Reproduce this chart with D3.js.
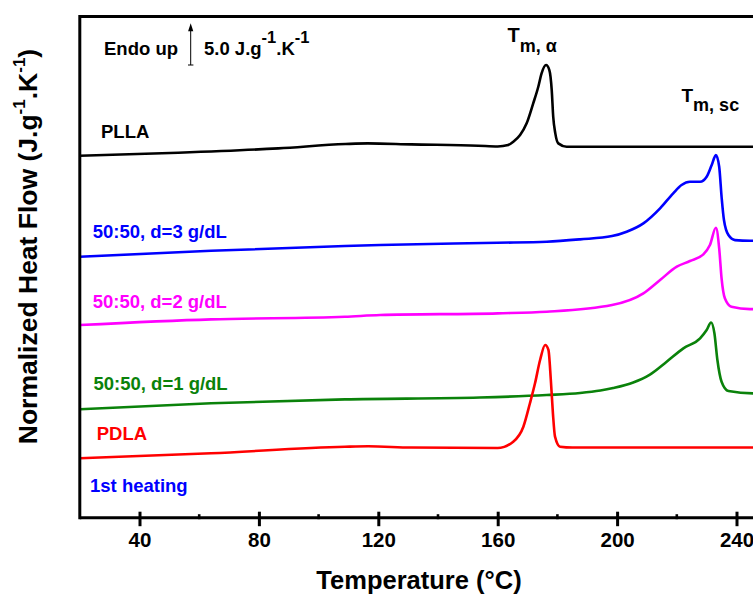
<!DOCTYPE html>
<html><head><meta charset="utf-8">
<script src="https://cdn.jsdelivr.net/npm/d3@7"></script>
<style>
html,body{margin:0;padding:0;background:#fff;}
svg{display:block;}
text{font-family:"Liberation Sans",Arial,Helvetica,sans-serif;font-weight:bold;}
</style></head>
<body>
<svg id="chart" width="753" height="594"></svg>
<script>
// Temperature (°C) and normalized heat flow (arbitrary offset units, 1 unit = 1 J.g-1.K-1)
const pllaT   = [20, 53, 86.5, 109, 116.5, 131, 153.5, 160, 163.5, 165.2, 167.5, 169.7, 171.9, 173.6, 174.7, 176.2, 177.3, 178.1, 178.6, 179.3, 180.3, 183.1, 200, 230, 260];
const pllaV   = [43.34, 43.70, 44.22, 44.74, 44.82, 44.70, 44.54, 44.45, 44.62, 45.01, 45.82, 47.22, 49.61, 51.60, 53.20, 54.20, 53.60, 51.20, 48.01, 46.02, 44.82, 44.42, 44.42, 44.42, 44.42];

const d3T     = [20, 64, 108.8, 120.6, 160, 176.4, 187.6, 198.3, 203.2, 208.8, 214.4, 218.8, 221.6, 224.4, 227.8, 230, 231.7, 233.1, 234.2, 235, 235.8, 237.3, 239.5, 244.5, 260];
const d3V     = [31.25, 31.96, 32.53, 32.65, 32.92, 33.04, 33.33, 33.72, 34.24, 35.24, 37.04, 38.84, 39.83, 40.22, 40.22, 40.82, 42.22, 43.42, 42.02, 38.43, 35.64, 33.84, 33.24, 33.16, 33.16];

const d2T     = [20, 64, 108.8, 120.6, 160, 176.4, 198.3, 208.8, 214.4, 220, 224.4, 228.9, 231.1, 233.1, 234.2, 235, 236.1, 238.3, 244.5, 260];
const d2V     = [23.07, 23.75, 24.06, 24.27, 24.47, 24.66, 25.46, 26.86, 28.46, 30.05, 30.73, 31.53, 32.65, 34.72, 32.25, 28.66, 26.27, 25.26, 24.98, 24.98];

const d1T     = [20, 64, 108.8, 154, 176.4, 187.6, 194.4, 198.7, 205.4, 211, 216.6, 222.2, 227.8, 230, 231.5, 232.6, 233.6, 235, 237.3, 245.5, 260];
const d1V     = [12.98, 13.70, 14.17, 14.39, 14.69, 14.93, 15.23, 15.53, 16.19, 17.14, 18.68, 20.28, 21.48, 22.47, 23.37, 22.08, 18.88, 16.28, 15.17, 14.89, 14.89];

const pdlaT   = [20, 64, 108.8, 116.6, 131, 160, 165.2, 168.6, 170.8, 172.5, 174.2, 175.9, 177, 177.8, 178.5, 179.2, 180.9, 185, 220, 260];
const pdlaV   = [7.11, 7.71, 8.50, 8.55, 8.40, 8.34, 9.10, 10.89, 13.70, 16.09, 18.88, 20.68, 20.08, 16.49, 12.50, 9.70, 8.50, 8.40, 8.40, 8.40];

const seriesNames  = ["PLLA", "50:50, d=3 g/dL", "50:50, d=2 g/dL", "50:50, d=1 g/dL", "PDLA"];
const seriesColors = ["#000000", "#0000ff", "#ff00ff", "#0a820a", "#ff0000"];
const majorTicks = [40, 80, 120, 160, 200, 240];
const minorTicks = [60, 100, 140, 180, 220];
const scaleBarValue = 5.0;

const svg = d3.select("#chart");
const pLeft = 79.8, pTop = 16.6, pBottom = 517.7;
const x = d3.scaleLinear().domain([20, 260]).range([pLeft, pLeft + 240 * 2.985]);
const y = d3.scaleLinear().domain([0, 60]).range([pBottom, pTop]);

svg.append("defs").append("clipPath").attr("id", "clip")
  .append("rect").attr("x", pLeft).attr("y", pTop).attr("width", 800).attr("height", pBottom - pTop);

const data = [
  pllaT.map((t, i) => [t, pllaV[i]]),
  d3T.map((t, i) => [t, d3V[i]]),
  d2T.map((t, i) => [t, d2V[i]]),
  d1T.map((t, i) => [t, d1V[i]]),
  pdlaT.map((t, i) => [t, pdlaV[i]])
];
const line = d3.line().x(d => x(d[0])).y(d => y(d[1])).curve(d3.curveMonotoneX);
const g = svg.append("g").attr("clip-path", "url(#clip)");
data.forEach((d, i) => {
  g.append("path").attr("d", line(d)).attr("fill", "none")
    .attr("stroke", seriesColors[i]).attr("stroke-width", 2.6).attr("stroke-linejoin", "round");
});

// Frame
svg.append("line").attr("x1", pLeft).attr("x2", pLeft).attr("y1", pTop - 1.5).attr("y2", pBottom + 1.5)
  .attr("stroke", "#000").attr("stroke-width", 3);
svg.append("line").attr("x1", pLeft).attr("x2", 800).attr("y1", pTop).attr("y2", pTop)
  .attr("stroke", "#000").attr("stroke-width", 3);

// Bottom axis
const xAxis = d3.axisBottom(x).tickValues(majorTicks).tickSize(0).tickPadding(0).tickFormat(d3.format("d"));
const ax = svg.append("g").attr("transform", `translate(0,${pBottom})`).call(xAxis);
ax.select(".domain").remove();
ax.append("line").attr("x1", pLeft).attr("x2", 800).attr("y1", 0).attr("y2", 0).attr("stroke", "#000").attr("stroke-width", 3);
ax.selectAll(".tick").append("line").attr("y1", -6).attr("y2", 8.5).attr("stroke", "#000").attr("stroke-width", 3);
ax.selectAll(".tick text").attr("y", 29).attr("dy", null).attr("fill", "#000")
  .style("font-size", "20.5px").style("font-family", "'Liberation Sans',Arial,sans-serif").style("font-weight", "bold");
ax.selectAll(".minor").data(minorTicks).enter().append("line")
  .attr("x1", d => x(d)).attr("x2", d => x(d)).attr("y1", -3.5).attr("y2", 1.5)
  .attr("stroke", "#000").attr("stroke-width", 2.6);

// Axis titles
svg.append("text").attr("x", 419).attr("y", 588.5).attr("text-anchor", "middle")
  .style("font-size", "25.5px").text("Temperature (°C)");
const yt = svg.append("text").attr("transform", "translate(37,246.5) rotate(-90)").attr("text-anchor", "middle")
  .style("font-size", "26.5px");
yt.append("tspan").text("Normalized Heat Flow (J.g");
yt.append("tspan").attr("dy", -12).style("font-size", "17px").text("-1");
yt.append("tspan").attr("dy", 12).text(".K");
yt.append("tspan").attr("dy", -12).style("font-size", "17px").text("-1");
yt.append("tspan").attr("dy", 12).text(")");

// Series labels
const labelPos = [[101, 138], [92.7, 237.5], [92.7, 307.5], [93.5, 389.5], [96.7, 439.5]];
seriesNames.forEach((n, i) => {
  svg.append("text").attr("x", labelPos[i][0]).attr("y", labelPos[i][1])
    .attr("fill", seriesColors[i]).style("font-size", "18.5px").text(n);
});
svg.append("text").attr("x", 90).attr("y", 491.7).attr("fill", "#0000ff").style("font-size", "18.5px").text("1st heating");

// Endo up + scale bar
svg.append("text").attr("x", 104).attr("y", 55).style("font-size", "18.5px").text("Endo up");
const barBottom = 65, barLen = y(0) - y(scaleBarValue);
svg.append("line").attr("x1", 190.7).attr("x2", 190.7).attr("y1", barBottom).attr("y2", barBottom - barLen + 6)
  .attr("stroke", "#000").attr("stroke-width", 1);
svg.append("line").attr("x1", 188).attr("x2", 193.4).attr("y1", barBottom).attr("y2", barBottom)
  .attr("stroke", "#000").attr("stroke-width", 1);
svg.append("path").attr("d", `M190.7,${barBottom - barLen} L193.3,${barBottom - barLen + 8} L188.1,${barBottom - barLen + 8} Z`).attr("fill", "#000");
const sb = svg.append("text").attr("x", 204).attr("y", 55).style("font-size", "18.5px");
sb.append("tspan").text("5.0 J.g");
sb.append("tspan").attr("dy", -12).style("font-size", "16.5px").text("-1");
sb.append("tspan").attr("dy", 12).text(".K");
sb.append("tspan").attr("dy", -12).style("font-size", "16.5px").text("-1");

// Peak annotations
const ta = svg.append("text").attr("x", 507.5).attr("y", 42).style("font-size", "20px");
ta.append("tspan").text("T");
ta.append("tspan").attr("dy", 9.5).style("font-size", "18px").text("m, α");
const ts = svg.append("text").attr("x", 681.5).attr("y", 101.7).style("font-size", "19px");
ts.append("tspan").text("T");
ts.append("tspan").attr("dy", 9).style("font-size", "18px").text("m, sc");
</script>
</body></html>
